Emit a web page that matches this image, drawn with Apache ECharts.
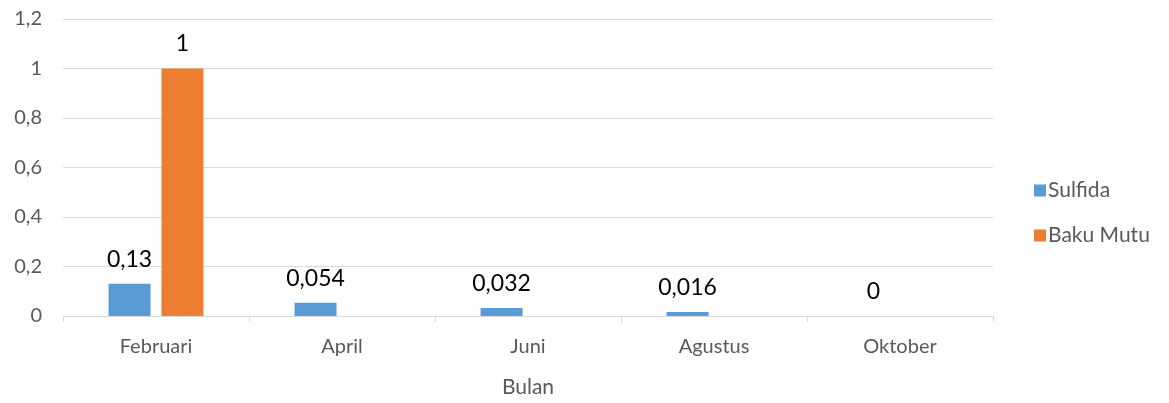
<!DOCTYPE html>
<html>
<head>
<meta charset="utf-8">
<script src="https://cdn.jsdelivr.net/npm/echarts@6/dist/echarts.min.js"></script>
<style>
  html, body { margin: 0; padding: 0; background: #fff; }
  #chart { width: 1169px; height: 403px; }
</style>
</head>
<body>
<div id="chart"></div>
<script>
const categories = ['Februari', 'April', 'Juni', 'Agustus', 'Oktober']
const sulfida = [0.13, 0.054, 0.032, 0.016, 0]
const bakuMutu = [1, null, null, null, null]
const yTicks = { min: 0, max: 1.2, interval: 0.2 }

const fontFamily = 'Lato, "Open Sans", sans-serif'
// koma sebagai pemisah desimal
const comma = (v) => String(Number(Number(v).toFixed(3))).replace('.', ',')

const labelStyle = {
  show: true,
  position: 'top',
  distance: 13,
  color: '#000',
  fontSize: 23,
  fontFamily: fontFamily,
  formatter: (p) => (p.value == null ? '' : comma(p.value))
}

const myChart = echarts.init(document.getElementById('chart'))
myChart.setOption({
  animation: false,
  grid: { left: 63, right: 176, top: 19, bottom: 81, containLabel: false },
  legend: {
    orient: 'vertical',
    left: 1034,
    top: 180,
    padding: 0,
    itemWidth: 12,
    itemHeight: 12,
    itemGap: 24,
    icon: 'rect',
    textStyle: { color: '#595959', fontSize: 21, fontFamily: fontFamily, padding: [0, 0, 0, -3] },
    data: ['Sulfida', 'Baku Mutu']
  },
  xAxis: {
    type: 'category',
    data: categories,
    name: 'Bulan',
    nameLocation: 'middle',
    nameGap: 61,
    nameTextStyle: { color: '#595959', fontSize: 21, fontFamily: fontFamily },
    axisLine: { lineStyle: { color: '#d9d9d9', width: 1 } },
    axisTick: { show: true, length: 6, lineStyle: { color: '#d9d9d9' } },
    axisLabel: { color: '#595959', fontSize: 20, fontFamily: fontFamily, margin: 21 }
  },
  yAxis: {
    type: 'value',
    min: yTicks.min,
    max: yTicks.max,
    interval: yTicks.interval,
    axisLine: { show: false },
    axisTick: { show: false },
    axisLabel: { color: '#595959', fontSize: 20, fontFamily: fontFamily, margin: 21, formatter: comma },
    splitLine: { lineStyle: { color: '#d9d9d9', width: 1 } }
  },
  series: [
    {
      name: 'Sulfida',
      type: 'bar',
      data: sulfida,
      barWidth: 42,
      barGap: '26%',
      itemStyle: { color: '#5b9bd5' },
      label: labelStyle
    },
    {
      name: 'Baku Mutu',
      type: 'bar',
      data: bakuMutu,
      barWidth: 42,
      itemStyle: { color: '#ed7d31' },
      label: labelStyle
    }
  ]
})
</script>
</body>
</html>
